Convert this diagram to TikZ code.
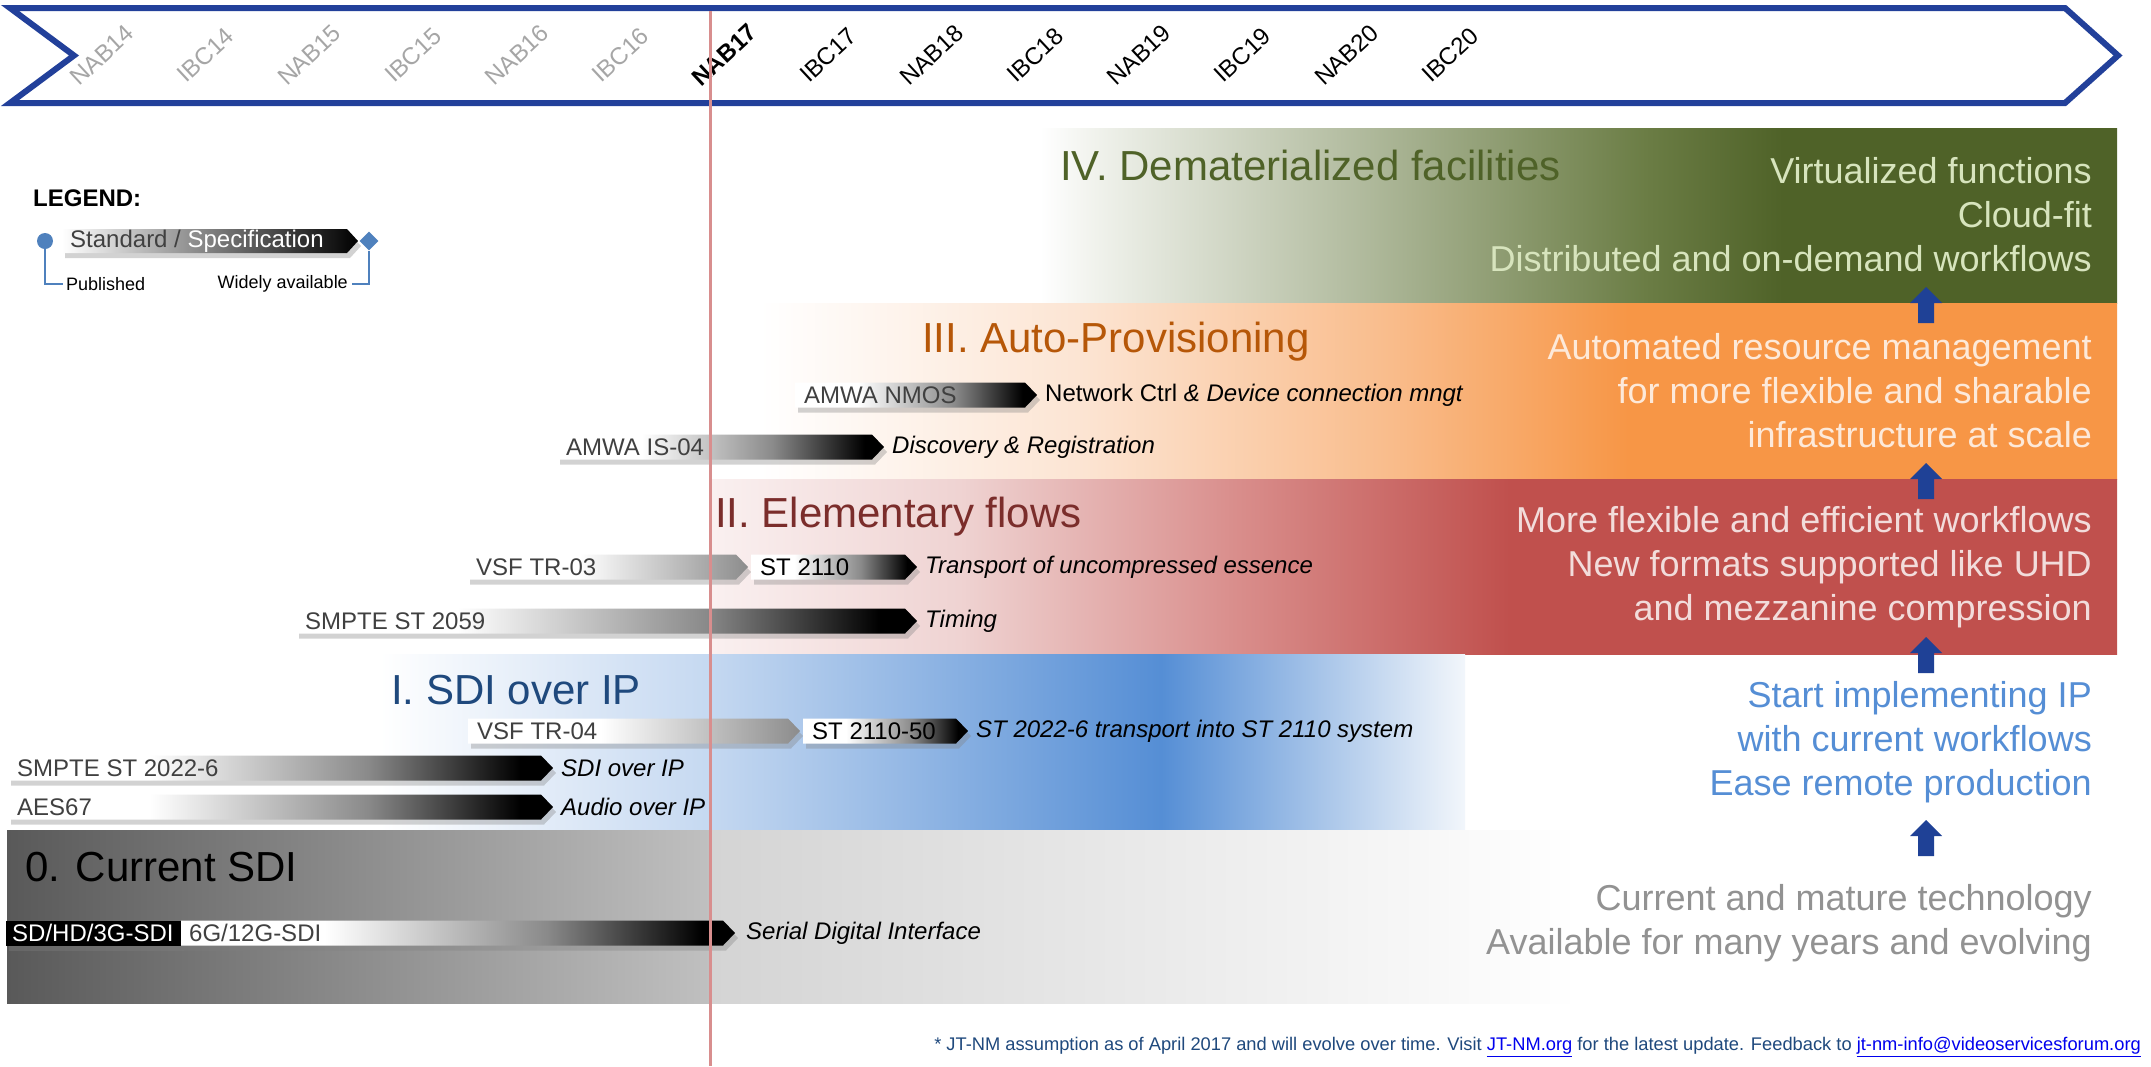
\documentclass[tikz,border=0pt]{standalone}
\usepackage{fontspec}
\setmainfont{Liberation Sans}
\usetikzlibrary{calc,arrows.meta,shadows,shapes.geometric}

\definecolor{bannerblue}{HTML}{22409A}
\definecolor{nowred}{HTML}{D88E8E}
\definecolor{pastgray}{HTML}{A6A6A6}
\definecolor{legendblue}{HTML}{4F81BD}
\definecolor{arrowblue}{HTML}{1F4196}
\definecolor{labelgray}{HTML}{404040}
\definecolor{fadegray}{HTML}{8A8A8A}
\definecolor{draftgray}{HTML}{8C8C8C}
% band colours
\definecolor{gfaint}{HTML}{F0F2EC}
\definecolor{gsage}{HTML}{AEB89A}
\definecolor{gmid}{HTML}{6B7D45}
\definecolor{gdark}{HTML}{4F6228}
\definecolor{gtext}{HTML}{D7E4BD}
\definecolor{opeach}{HTML}{FCE4D2}
\definecolor{olight}{HTML}{F9BD8D}
\definecolor{orange}{HTML}{F79646}
\definecolor{otitle}{HTML}{B65708}
\definecolor{otext}{HTML}{FDE9D9}
\definecolor{rfaint}{HTML}{FAF0F0}
\definecolor{rpink}{HTML}{EFD3D2}
\definecolor{rmid}{HTML}{D98E8C}
\definecolor{rred}{HTML}{C0504D}
\definecolor{rtitle}{HTML}{7B2D2B}
\definecolor{rtext}{HTML}{F2DCDB}
\definecolor{blight}{HTML}{C6D9F1}
\definecolor{bblue}{HTML}{558ED5}
\definecolor{bend}{HTML}{F2F6FB}
\definecolor{btitle}{HTML}{1F497D}
\definecolor{sdidark}{HTML}{595959}
\definecolor{sdimid}{HTML}{C0C0C0}
\definecolor{sdilight}{HTML}{D4D4D4}
\definecolor{sditext}{HTML}{929292}
\definecolor{footblue}{HTML}{1F497D}
\definecolor{linkblue}{HTML}{0000EE}

\pgfdeclarehorizontalshading{specfade}{100bp}{color(0bp)=(white); color(25bp)=(white); color(38bp)=(white); color(58bp)=(fadegray); color(72bp)=(black); color(100bp)=(black)}
\pgfdeclarehorizontalshading{draftfade}{100bp}{color(0bp)=(white); color(25bp)=(white); color(45bp)=(white); color(75bp)=(draftgray); color(100bp)=(draftgray)}
\pgfdeclarehorizontalshading{greenband}{100bp}{color(0bp)=(white); color(25bp)=(white); color(27.6bp)=(gfaint); color(40.4bp)=(gsage); color(53.1bp)=(gmid); color(59.5bp)=(gdark); color(100bp)=(gdark)}
\pgfdeclarehorizontalshading{orangeband}{100bp}{color(0bp)=(white); color(25bp)=(white); color(37bp)=(opeach); color(48bp)=(olight); color(57bp)=(orange); color(100bp)=(orange)}
\pgfdeclarehorizontalshading{redband}{100bp}{color(0bp)=(rfaint); color(25bp)=(rfaint); color(33.8bp)=(rpink); color(43.6bp)=(rmid); color(53.4bp)=(rred); color(100bp)=(rred)}
\pgfdeclarehorizontalshading{blueband}{100bp}{color(0bp)=(white); color(25bp)=(white); color(40bp)=(blight); color(61bp)=(bblue); color(75bp)=(bend); color(100bp)=(bend)}

\begin{document}
\begin{tikzpicture}[
	x=1pt, y=-1pt,
	specbar/.style={
		shading=specfade,
		drop shadow={shadow xshift=3pt, shadow yshift=-5pt, opacity=.35}
	},
	draftbar/.style={
		shading=draftfade,
		drop shadow={shadow xshift=3pt, shadow yshift=-5pt, opacity=.35}
	},
	barlabel/.style={anchor=west, inner sep=0pt, text=labelgray, font=\fontsize{24}{28}\selectfont},
	bardesc/.style={anchor=west, inner sep=0pt, font=\fontsize{24}{28}\selectfont},
	bandtitle/.style={anchor=west, inner sep=0pt, font=\fontsize{42}{48}\selectfont},
	bandnote/.style={anchor=east, inner sep=0pt, align=right, font=\fontsize{36}{44}\selectfont},
	eventlabel/.style={rotate=43, inner sep=0pt, font=\fontsize{24}{28}\selectfont},
	legline/.style={legendblue, line width=2.5pt},
	uparrow/.style={fill=arrowblue},
]

\pgfmathsetmacro{\nowx}{710}
\pgfmathsetmacro{\notex}{2092}
\pgfmathsetmacro{\arrx}{1926}

\useasboundingbox (0,0) rectangle (2151,1066);
\fill[white] (0,0) rectangle (2151,1066);

% bands
\shade[shading=greenband] (1040,128) rectangle (2117,303);
\shade[shading=orangeband] (760,303) rectangle (2117,479);
\shade[shading=redband] (712,479) rectangle (2117,654);
\shade[shading=blueband] (380,654) rectangle (1465,830);
\shade[left color=sdidark, right color=sdimid] (7,830) rectangle (\nowx,1003);
\shade[left color=sdilight, right color=white] (\nowx,830) rectangle (1580,1003);

% timeline banner
\filldraw[fill=white, draw=bannerblue, line width=6pt, line join=miter]
	(10,8) -- (2065,8) -- (2118,55.5) -- (2065,103) -- (10,103) -- (74,55.5) -- cycle;
\foreach \ev [count=\i from 0] in {NAB14,IBC14,NAB15,IBC15,NAB16,IBC16,NAB17,IBC17,NAB18,IBC18,NAB19,IBC19,NAB20,IBC20} {
	\pgfmathsetmacro{\evx}{102+103.7*\i}
	\ifnum\i<6 \def\evcol{pastgray}\else\def\evcol{black}\fi
	\node[eventlabel, text=\evcol] (ev\i) at (\evx,55) {\ifnum\i=6 \bfseries\fi\ev};
}

% legend
\node[anchor=west, inner sep=0pt, font=\bfseries\fontsize{24}{28}\selectfont] (legendtitle) at (33,198) {LEGEND:};
\node[circle, fill=legendblue, minimum size=16pt, inner sep=0pt] (pubdot) at (45,241) {};
\shade[left color=white, right color=black, drop shadow={shadow xshift=3pt, shadow yshift=-5pt, opacity=.35}]
	(62,229) -- (347,229) -- (358,241) -- (347,253) -- (62,253) -- cycle;
\node[barlabel] (legendbar) at (70,241) {Standard / \textcolor{white}{Specification}};
\node[diamond, fill=legendblue, minimum size=19pt, inner sep=0pt] (availdot) at (369,241) {};
\node[anchor=west, inner sep=0pt, font=\fontsize{18}{21}\selectfont] (pubtext) at (66,284) {Published};
\node[anchor=east, inner sep=0pt, font=\fontsize{18}{21}\selectfont] (availtext) at (348,284) {Widely available};
\draw[legline] (pubdot) |- ([xshift=-3pt]pubtext.west);
\draw[legline] ([xshift=4pt]availtext.east) -| (availdot);

% drafts (fade to grey)
\foreach \xa/\xb/\yc/\nm/\lbl in {467/748/567/trthree/{VSF TR-03}, 468/800/731/trfour/{VSF TR-04}} {
	\shade[draftbar] (\xa,\yc-12.5) -- (\xb-12,\yc-12.5) -- (\xb,\yc) -- (\xb-12,\yc+12.5) -- (\xa,\yc+12.5) -- cycle;
	\node[barlabel] (\nm) at (\xa+9,\yc) {\lbl};
}

% standards
\foreach \xa/\xb/\yc/\nm/\lbl/\desc in {
	795/1037/395/nmos/{AMWA NMOS}/{Network Ctrl \textit{\& Device connection mngt}},
	557/884/447/isfour/{AMWA IS-04}/{\textit{Discovery \& Registration}},
	751/917/567/stflows/{\textcolor{black}{ST 2110}}/{\textit{Transport of uncompressed essence}},
	296/917/621/timing/{SMPTE ST 2059}/{\textit{Timing}},
	803/968/731/stfifty/{\textcolor{black}{ST 2110-50}}/{\textit{ST 2022-6 transport into ST 2110 system}},
	8/553/768/sdiip/{SMPTE ST 2022-6}/{\textit{SDI over IP}},
	8/553/807/aes/{AES67}/{\textit{Audio over IP}}%
} {
	\shade[specbar] (\xa,\yc-12.5) -- (\xb-12,\yc-12.5) -- (\xb,\yc) -- (\xb-12,\yc+12.5) -- (\xa,\yc+12.5) -- cycle;
	\node[barlabel] (\nm) at (\xa+9,\yc) {\lbl};
	\node[bardesc] (\nm-desc) at (\xb+8,\yc) {\desc};
}

% SDI
\fill[black, drop shadow={shadow xshift=3pt, shadow yshift=-5pt, opacity=.35}] (6,920.5) rectangle (181,945.5);
\shade[specbar] (181,920.5) -- (723,920.5) -- (735,933) -- (723,945.5) -- (181,945.5) -- cycle;
\node[barlabel, text=white] (sdhd) at (12,933) {SD/HD/3G-SDI};
\node[barlabel] (sdtwelve) at (189,933) {6G/12G-SDI};
\node[bardesc] (sdtwelve-desc) at (746,933) {\textit{Serial Digital Interface}};

% band titles
\node[bandtitle, text=gdark] (dematitle) at (1060,165) {IV. Dematerialized facilities};
\node[bandtitle, text=otitle] (provtitle) at (922,342) {III. Auto-Provisioning};
\node[bandtitle, text=rtitle] (flowtitle) at (715,517) {II. Elementary flows};
\node[bandtitle, text=btitle] (iptitle) at (391,690) {I. SDI over IP};
\node[bandtitle, text=black] (sdititle) at (25,867) {0. Current SDI};

% band notes
\node[bandnote, text=gtext] (demanote) at (\notex,215) {Virtualized functions\\Cloud-fit\\Distributed and on-demand workflows};
\node[bandnote, text=otext] (provnote) at (\notex,391) {Automated resource management\\for more flexible and sharable\\infrastructure at scale};
\node[bandnote, text=rtext] (flownote) at (\notex,567) {More flexible and efficient workflows\\New formats supported like UHD\\and mezzanine compression};
\node[bandnote, text=bblue] (ipnote) at (\notex,742) {Start implementing IP\\with current workflows\\Ease remote production};
\node[bandnote, text=sditext] (sdinote) at (\notex,923) {Current and mature technology\\Available for many years and evolving};

% up arrows between bands
\foreach \yb in {303,479,653,836} {
	\fill[uparrow] (\arrx-8,\yb+20) -- (\arrx-8,\yb) -- (\arrx-16,\yb) -- (\arrx,\yb-16)
		-- (\arrx+16,\yb) -- (\arrx+8,\yb) -- (\arrx+8,\yb+20) -- cycle;
}

% today
\draw[nowred, line width=3pt] (\nowx,11) -- (\nowx,1066);

% footnote
\node[anchor=east, inner sep=0pt, text=footblue, font=\fontsize{18.3}{21}\selectfont] (footnote) at (2141,1047)
	{* JT-NM assumption as of April 2017 and will evolve over time. Visit \textcolor{linkblue}{\underline{JT-NM.org}} for the latest update. Feedback to \textcolor{linkblue}{\underline{jt-nm-info@videoservicesforum.org}}};

\end{tikzpicture}
\end{document}
